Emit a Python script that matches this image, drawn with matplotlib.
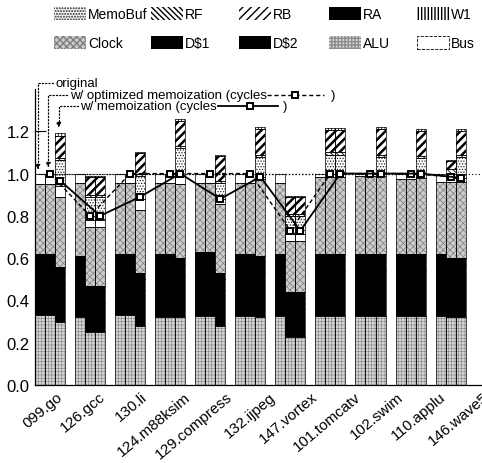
import numpy as np
import matplotlib
matplotlib.use("Agg")
import matplotlib.pyplot as plt
from matplotlib.patches import Patch

plt.rcParams['font.family'] = ['Liberation Sans', 'DejaVu Sans']

# ---------------- data ----------------
benchmarks = ['099.go', '126.gcc', '130.li', '124.m88ksim', '129.compress', '132.ijpeg',
              '147.vortex', '101.tomcatv', '102.swim', '110.applu', '146.wave5']
configs = ['original', 'w/ optimized memoization', 'w/ memoization']

# energy components (rows: original, optimized memoization, memoization)
ALU = [[0.33, 0.32, 0.33, 0.32, 0.325, 0.325, 0.325, 0.325, 0.325, 0.325, 0.325],
       [0.33, 0.25, 0.33, 0.32, 0.325, 0.325, 0.225, 0.325, 0.325, 0.325, 0.32],
       [0.30, 0.25, 0.28, 0.32, 0.28, 0.32, 0.225, 0.325, 0.325, 0.325, 0.32]]
D1 = [[0.21, 0.21, 0.21, 0.22, 0.225, 0.215, 0.215, 0.215, 0.215, 0.215, 0.215],
      [0.21, 0.14, 0.21, 0.22, 0.225, 0.215, 0.135, 0.215, 0.215, 0.215, 0.20],
      [0.18, 0.14, 0.17, 0.20, 0.17, 0.21, 0.135, 0.215, 0.215, 0.215, 0.20]]
D2 = [[0.05, 0.05, 0.05, 0.05, 0.05, 0.05, 0.05, 0.05, 0.05, 0.05, 0.05],
      [0.05, 0.05, 0.05, 0.05, 0.05, 0.05, 0.05, 0.05, 0.05, 0.05, 0.05],
      [0.05, 0.05, 0.05, 0.05, 0.05, 0.05, 0.05, 0.05, 0.05, 0.05, 0.05]]
RA = [[0.03, 0.03, 0.03, 0.03, 0.03, 0.03, 0.03, 0.03, 0.03, 0.03, 0.03],
      [0.03, 0.03, 0.03, 0.03, 0.03, 0.03, 0.03, 0.03, 0.03, 0.03, 0.03],
      [0.03, 0.03, 0.03, 0.03, 0.03, 0.03, 0.03, 0.03, 0.03, 0.03, 0.03]]
Clock = [[0.33, 0.345, 0.335, 0.335, 0.325, 0.335, 0.335, 0.365, 0.37, 0.355, 0.34],
         [0.33, 0.275, 0.335, 0.335, 0.325, 0.335, 0.24, 0.365, 0.37, 0.355, 0.36],
         [0.33, 0.275, 0.30, 0.35, 0.325, 0.365, 0.24, 0.365, 0.37, 0.36, 0.36]]
Bus = [[0.05, 0.045, 0.045, 0.045, 0.045, 0.045, 0.045, 0.015, 0.01, 0.025, 0.04],
       [0.05, 0.035, 0.045, 0.045, 0.045, 0.045, 0.035, 0.015, 0.01, 0.025, 0.02],
       [0.05, 0.035, 0.05, 0.04, 0.025, 0.01, 0.035, 0.015, 0.01, 0.02, 0.02]]
MemoBuf = [[0, 0, 0, 0, 0, 0, 0, 0, 0, 0, 0],
           [0, 0.11, 0, 0, 0, 0, 0.085, 0.09, 0, 0, 0.02],
           [0.125, 0.11, 0.11, 0.13, 0.075, 0.095, 0.085, 0.09, 0.08, 0.075, 0.10]]
RF = [[0, 0, 0, 0, 0, 0, 0, 0, 0, 0, 0],
      [0, 0.01, 0, 0, 0, 0, 0.01, 0.01, 0, 0, 0.02],
      [0.01, 0.01, 0.01, 0.01, 0.01, 0.01, 0.01, 0.01, 0.01, 0.01, 0.01]]
RB = [[0, 0, 0, 0, 0, 0, 0, 0, 0, 0, 0],
      [0, 0.085, 0, 0, 0, 0, 0.08, 0.105, 0, 0, 0.04],
      [0.105, 0.085, 0.095, 0.12, 0.12, 0.12, 0.08, 0.105, 0.12, 0.115, 0.11]]
W1 = [[0, 0, 0, 0, 0, 0, 0, 0, 0, 0, 0],
      [0, 0.005, 0, 0, 0, 0, 0.005, 0.01, 0, 0, 0.005],
      [0.01, 0.005, 0.005, 0.01, 0.005, 0.01, 0.005, 0.01, 0.01, 0.01, 0.01]]

# normalized cycles
cycles_orig = [1.0] * 11
cycles_opt = [1.0, 0.80, 1.0, 1.0, 1.0, 1.0, 0.73, 1.0, 1.0, 1.0, 0.985]
cycles_memo = [0.967, 0.80, 0.89, 1.0, 0.88, 0.985, 0.73, 1.0, 1.0, 1.0, 0.98]

# ---------------- styles ----------------
stack = [('ALU', ALU), ('D$1', D1), ('D$2', D2), ('RA', RA), ('Clock', Clock),
         ('Bus', Bus), ('MemoBuf', MemoBuf), ('RF', RF), ('RB', RB), ('W1', W1)]
style = {
    'ALU':     dict(face='#d6d6d6', hatch='+++++', hc='#8c8c8c', hl=0.5),
    'D$1':     dict(face='black', hatch=None, hc='black', hl=0.6),
    'D$2':     dict(face='black', hatch=None, hc='black', hl=0.6),
    'RA':      dict(face='black', hatch=None, hc='black', hl=0.6),
    'Clock':   dict(face='#cccccc', hatch='xxxxx', hc='#7e7e7e', hl=0.5),
    'Bus':     dict(face='white', hatch=None, hc='black', hl=0.6),
    'MemoBuf': dict(face='white', hatch='......', hc='#222222', hl=0.6),
    'RF':      dict(face='white', hatch='\\\\\\\\\\\\', hc='black', hl=0.6),
    'RB':      dict(face='white', hatch='////', hc='black', hl=1.8),
    'W1':      dict(face='white', hatch='|||||', hc='black', hl=0.6),
}

W, H = 482, 464
fig = plt.figure(figsize=(W / 100, H / 100), dpi=100)
ax = fig.add_axes([35 / W, (H - 386) / H, 447 / W, (386 - 90) / H])

ngroup = len(benchmarks)
group = np.arange(ngroup) * 4
for j in range(3):
    xs = group + j
    bottom = np.zeros(ngroup)
    for name, arr in stack:
        vals = np.array(arr[j], dtype=float)
        st = style[name]
        with plt.rc_context({'hatch.linewidth': st['hl']}):
            ax.bar(xs, vals, width=1.0, bottom=bottom, color=st['face'],
                   edgecolor=st['hc'], hatch=st['hatch'], linewidth=0, zorder=2)
        mask = vals > 0
        ax.bar(xs[mask], vals[mask], width=1.0, bottom=bottom[mask], fill=False,
               edgecolor='black', linewidth=0.5, zorder=3)
        bottom = bottom + vals

# cycles lines
ax.axhline(1.0, color='black', lw=0.8, ls=(0, (1, 2)), zorder=4)
ax.plot(group + 0, cycles_orig, ls=':', color='black', lw=0.9, zorder=4)
ax.plot(group + 1, cycles_opt, ls=(0, (3, 2)), color='black', lw=1.0, marker='s',
        ms=5, mfc='white', mec='black', mew=1.4, zorder=5)
ax.plot(group + 2, cycles_memo, ls='-', color='black', lw=1.3, marker='s',
        ms=5, mfc='white', mec='black', mew=1.4, zorder=5)

ax.set_xlim(-0.5, 41.77)
ax.set_ylim(0, 1.4)
ax.set_yticks(np.arange(0, 1.21, 0.2))
ax.set_yticklabels([f'{v:.1f}' for v in np.arange(0, 1.21, 0.2)], fontsize=12)
ax.tick_params(axis='y', direction='in', length=8, width=0.8, pad=4)


def dx(px):
    return -0.5 + (px - 35) / 10.575


def dy(py):
    return (386 - py) / 212.0


label_pos = [dx(57 + 45 * i) for i in range(ngroup)]
ax.set_xticks(label_pos)
ax.set_xticklabels(benchmarks, rotation=40, ha='right', rotation_mode='anchor', fontsize=11)
ax.tick_params(axis='x', length=0, pad=3)
for s in ['top', 'right']:
    ax.spines[s].set_visible(False)
ax.spines['left'].set_linewidth(0.9)
ax.spines['bottom'].set_linewidth(0.9)

# annotations
ap = dict(arrowstyle='-|>', linestyle=':', lw=0.9, color='black', mutation_scale=7,
          shrinkA=0, shrinkB=0, relpos=(0, 0.5),
          connectionstyle='angle,angleA=0,angleB=90,rad=0')
ax.annotate('original', xy=(dx(38), dy(170)), xytext=(dx(57), dy(83)),
            fontsize=9.5, ha='left', va='center', annotation_clip=False, arrowprops=ap)
ax.annotate('w/ optimized memoization (cycles', xy=(dx(49), dy(168)),
            xytext=(dx(72), dy(95)), fontsize=9.5, ha='left', va='center',
            annotation_clip=False, arrowprops=ap)
ax.annotate('w/ memoization (cycles', xy=(dx(60), dy(128)),
            xytext=(dx(83), dy(106)), fontsize=9.5, ha='left', va='center',
            annotation_clip=False, arrowprops=ap)
ax.plot([dx(280), dx(340)], [dy(95), dy(95)], ls=(0, (3, 2)), color='black', lw=1.0,
        clip_on=False)
ax.plot([dx(310)], [dy(95)], marker='s', ms=5, mfc='white', mec='black', mew=1.4,
        clip_on=False)
ax.text(dx(347), dy(95), ')', fontsize=9.5, ha='left', va='center')
ax.plot([dx(228), dx(292)], [dy(106), dy(106)], ls='-', color='black', lw=1.3,
        clip_on=False)
ax.plot([dx(262)], [dy(106)], marker='s', ms=5, mfc='white', mec='black', mew=1.4,
        clip_on=False)
ax.text(dx(297), dy(106), ')', fontsize=9.5, ha='left', va='center')


# legend (5 columns, 2 rows)
def handle(name):
    st = style[name]
    if name == 'Bus':
        return Patch(facecolor='white', edgecolor='black', linestyle='--', linewidth=0.6)
    with plt.rc_context({'hatch.linewidth': st['hl']}):
        return Patch(facecolor=st['face'], edgecolor=st['hc'], hatch=st['hatch'], linewidth=0)


cols = [('MemoBuf', 'Clock'), ('RF', 'D$1'), ('RB', 'D$2'), ('RA', 'ALU'), ('W1', 'Bus')]
col_x = [55, 152, 240, 330, 418]
for (a, b), cx in zip(cols, col_x):
    fig.legend([handle(a), handle(b)], [a, b], loc='upper left',
               bbox_to_anchor=((cx - 1) / W, 1 - 8 / H), frameon=False,
               fontsize=10, handlelength=2.3, handleheight=1.1,
               handletextpad=0.15, labelspacing=1.05, borderpad=0,
               borderaxespad=0)

fig.savefig('out.png', dpi=100)
